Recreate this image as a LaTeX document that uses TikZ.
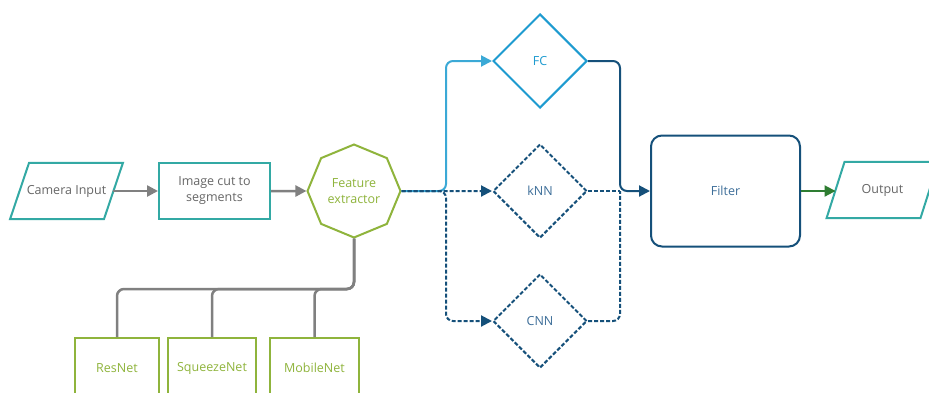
\documentclass[tikz,border=0pt]{standalone}
\usepackage{fontspec}
\setmainfont{Open Sans}
\usetikzlibrary{shapes.geometric,arrows.meta}
\definecolor{teal}{HTML}{33A9A4}
\definecolor{lgreen}{HTML}{8FB43C}
\definecolor{gline}{HTML}{808080}
\definecolor{gtext}{HTML}{666666}
\definecolor{lblue}{HTML}{1E9BD0}
\definecolor{lbline}{HTML}{3BA9D6}
\definecolor{dblue}{HTML}{15507A}
\definecolor{dbtext}{HTML}{3D6E99}
\definecolor{dgreen}{HTML}{2E7D32}
\begin{document}
\begin{tikzpicture}[x=1pt,y=-1pt,
  font=\fontsize{12.5}{16}\selectfont,
  parabox/.style={rectangle, minimum width=93.5pt, minimum height=56pt,
    text=gtext, inner sep=0pt},
  paraline/.style={draw=teal, line width=2pt, line join=miter},
  tbox/.style={rectangle, draw=teal, line width=2pt, minimum width=111pt,
    minimum height=56pt, text=gtext, align=center, inner sep=0pt},
  octa/.style={regular polygon, regular polygon sides=8, shape border rotate=22.5,
    minimum size=93pt, draw=lgreen, line width=2pt, text=lgreen, align=center, inner sep=0pt},
  gbox/.style={rectangle, draw=lgreen, line width=2pt, text=lgreen, minimum height=60pt, inner sep=0pt},
  dia/.style={diamond, minimum width=94pt, minimum height=94pt, line width=2pt, inner sep=0pt},
  dashdia/.style={dia, draw=dblue, dash pattern=on 4pt off 2pt, text=dbtext},
  arr/.style={-{Triangle[length=11pt,width=11pt]}},
  glink/.style={draw=gline, line width=2.5pt, rounded corners=7pt},
  dlink/.style={draw=dblue, line width=2pt, dash pattern=on 4pt off 2pt, rounded corners=7pt},
]
\useasboundingbox (0,0) rectangle (929,392);
\fill[white] (0,0) rectangle (929,392);

\node[parabox] (cam) at (66.5,191) {Camera Input};
\draw[paraline] ([xshift=-9.5pt]cam.south west) -- ([xshift=-9.5pt]cam.south east)
  -- ([xshift=9.5pt]cam.north east) -- ([xshift=9.5pt]cam.north west) -- cycle;
\node[tbox] (cut) at (214.5,191) {Image cut to\\segments};
\node[octa] (fe) at (354,191) {Feature\\extractor};

\node[gbox, minimum width=84pt] (res) at (117,368) {ResNet};
\node[gbox, minimum width=88pt] (sq) at (212,368) {SqueezeNet};
\node[gbox, minimum width=89pt] (mob) at (314.5,368) {MobileNet};

\node[dia, draw=lblue, text=lblue] (fc) at (540,61) {FC};
\node[dashdia] (knn) at (540,191) {kNN};
\node[dashdia] (cnn) at (540,321) {CNN};

\node[rectangle, rounded corners=11pt, draw=dblue, line width=2pt, minimum width=149pt,
  minimum height=111pt, text=dbtext] (filt) at (725.5,191) {Filter};
\node[parabox] (out) at (882.5,190) {Output};
\draw[paraline] ([xshift=-9pt]out.south west) -- ([xshift=-9pt]out.south east)
  -- ([xshift=9pt]out.north east) -- ([xshift=9pt]out.north west) -- cycle;

\coordinate (split) at (446,191);
\coordinate (merge) at (620,191);

% gray links
\draw[gline, line width=2.5pt, arr] (cam.east) -- (cut.west);
\draw[gline, line width=2.5pt, arr] (cut.east) -- (fe.west);
\draw[glink] (fe.south) |- (res.north |- 0,289) -- (res.north);
\draw[glink] (fe.south) |- (sq.north |- 0,289) -- (sq.north);
\draw[glink] (fe.south) |- (mob.north |- 0,289) -- (mob.north);

% FC path
\draw[lbline, line width=2pt, rounded corners=7pt, arr] (fe.east) -- (split) |- (fc.west);
\draw[dblue, line width=2pt, rounded corners=7pt, arr] (fc.east) -| (merge) -- (filt.west);

% dashed paths
\draw[dlink, arr] (fe.east) -- (knn.west);
\draw[dlink, arr] (fe.east) -- (split) |- (cnn.west);
\draw[dlink] (knn.east) -- (merge);
\draw[dlink] (cnn.east) -| (merge);

% output
\draw[dgreen, line width=2pt, arr] (filt.east) -- ([yshift=-1pt]out.west);
\end{tikzpicture}
\end{document}
